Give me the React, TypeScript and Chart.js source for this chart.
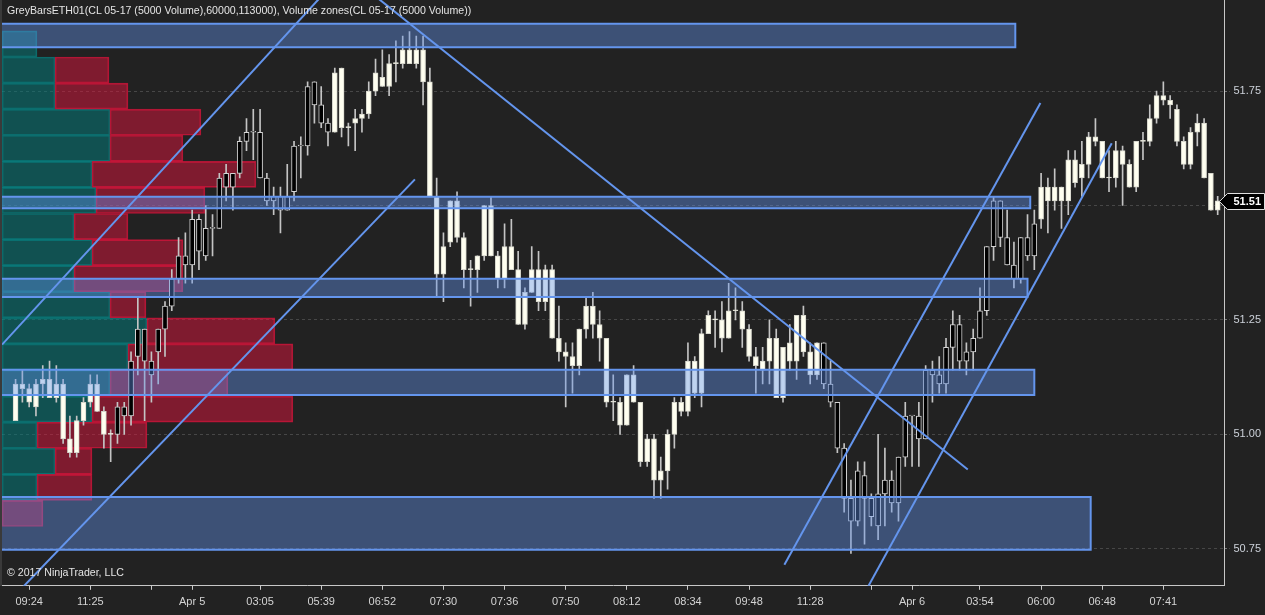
import React, { useEffect, useRef } from 'react';
import { Chart, registerables } from 'chart.js';

Chart.register(...registerables);

// ---- Candles (CL 05-17, 5000 volume bars) ----
const open = [
  51.11, 51.11, 51.10, 51.11, 51.12, 51.12, 51.11, 51.11, 50.99, 51.03, 51.07, 51.11, 51.11, 51.05, 51.00,
  51.00, 51.04, 51.04, 51.17, 51.16, 51.13, 51.18, 51.23, 51.28, 51.34, 51.37, 51.37, 51.40, 51.39, 51.45,
  51.45, 51.54, 51.54, 51.57, 51.64, 51.66, 51.56, 51.51, 51.51, 51.49, 51.49, 51.53, 51.63, 51.63, 51.72, 51.68, 51.66,
  51.79, 51.80, 51.67, 51.69, 51.70, 51.75, 51.79, 51.78, 51.81, 51.81, 51.84, 51.84, 51.84, 51.84,
  51.77, 51.52, 51.41, 51.51, 51.51, 51.43, 51.36, 51.39, 51.50, 51.50, 51.39, 51.41, 51.41, 51.36, 51.31,
  51.36, 51.36, 51.36, 51.36, 51.21, 51.18, 51.17, 51.23, 51.28, 51.28, 51.24, 51.21, 51.07, 51.07, 51.13,
  51.13, 51.07, 50.99, 50.99, 50.92, 51.00, 51.07, 51.07, 51.16, 51.16, 51.22, 51.26, 51.25, 51.25, 51.27,
  51.27, 51.27, 51.23, 51.17, 51.16, 51.21, 51.21, 51.19, 51.20, 51.26, 51.26, 51.18, 51.20,
  51.11, 51.07, 50.97, 50.86, 50.81, 50.81, 50.86, 50.82, 50.80, 50.87, 50.85, 50.85, 50.95, 51.04, 50.99,
  50.99, 51.13, 51.11, 51.11, 51.19, 51.16, 51.16, 51.18, 51.21, 51.27, 51.41, 51.43, 51.37, 51.34, 51.34, 51.39, 51.39,
  51.54, 51.54, 51.54, 51.54, 51.60, 51.60, 51.59, 51.65, 51.65, 51.64, 51.56, 51.62, 51.62, 51.59, 51.64,
  51.64, 51.69, 51.74, 51.74, 51.73, 51.71, 51.64, 51.66, 51.68, 51.68, 51.57, 51.49,
];
const high = [
  51.12, 51.14, 51.11, 51.12, 51.15, 51.16, 51.15, 51.12, 51.04, 51.04, 51.08, 51.13, 51.13, 51.06, 51.01,
  51.07, 51.07, 51.18, 51.30, 51.23, 51.18, 51.23, 51.29, 51.36, 51.43, 51.44, 51.49, 51.48, 51.50, 51.48,
  51.57, 51.59, 51.57, 51.65, 51.69, 51.71, 51.71, 51.57, 51.54, 51.54, 51.59, 51.64, 51.65, 51.77, 51.77, 51.76, 51.69,
  51.80, 51.80, 51.68, 51.71, 51.71, 51.77, 51.82, 51.84, 51.83, 51.86, 51.87, 51.88, 51.87, 51.87,
  51.80, 51.56, 51.44, 51.51, 51.53, 51.44, 51.38, 51.39, 51.50, 51.52, 51.40, 51.46, 51.47, 51.40, 51.32,
  51.41, 51.40, 51.37, 51.37, 51.28, 51.20, 51.20, 51.23, 51.30, 51.31, 51.27, 51.21, 51.13, 51.08, 51.13,
  51.15, 51.07, 51.00, 51.00, 50.95, 51.01, 51.08, 51.08, 51.20, 51.17, 51.23, 51.27, 51.27, 51.29, 51.33,
  51.32, 51.29, 51.24, 51.19, 51.19, 51.25, 51.23, 51.19, 51.24, 51.26, 51.28, 51.20, 51.20,
  51.20, 51.16, 51.07, 50.98, 50.90, 50.94, 50.94, 50.87, 51.00, 50.97, 50.92, 50.95, 51.07, 51.04, 51.07,
  51.15, 51.16, 51.17, 51.21, 51.27, 51.26, 51.20, 51.23, 51.32, 51.41, 51.52, 51.51, 51.49, 51.42, 51.43, 51.48, 51.49,
  51.57, 51.56, 51.58, 51.54, 51.62, 51.62, 51.64, 51.66, 51.69, 51.64, 51.62, 51.64, 51.63, 51.60, 51.64,
  51.66, 51.72, 51.75, 51.77, 51.74, 51.72, 51.65, 51.67, 51.70, 51.69, 51.57, 51.52,
];
const low = [
  51.03, 51.07, 51.06, 51.04, 51.08, 51.08, 51.07, 50.98, 50.95, 50.95, 51.02, 51.06, 51.05, 50.97, 50.94,
  50.98, 51.00, 51.02, 51.13, 51.03, 51.07, 51.11, 51.17, 51.27, 51.33, 51.33, 51.33, 51.36, 51.38, 51.39,
  51.45, 51.51, 51.49, 51.56, 51.62, 51.60, 51.56, 51.50, 51.48, 51.44, 51.49, 51.51, 51.56, 51.61, 51.68, 51.67, 51.63,
  51.66, 51.65, 51.63, 51.62, 51.66, 51.69, 51.74, 51.76, 51.74, 51.77, 51.80, 51.81, 51.80, 51.72,
  51.52, 51.30, 51.29, 51.41, 51.42, 51.32, 51.28, 51.31, 51.38, 51.39, 51.32, 51.32, 51.36, 51.24, 51.23,
  51.31, 51.27, 51.27, 51.21, 51.16, 51.06, 51.09, 51.13, 51.21, 51.21, 51.16, 51.06, 51.03, 51.00, 51.02,
  51.07, 50.93, 50.93, 50.86, 50.86, 50.88, 50.97, 51.04, 51.04, 51.08, 51.06, 51.22, 51.19, 51.18, 51.21,
  51.25, 51.19, 51.16, 51.09, 51.11, 51.11, 51.08, 51.07, 51.14, 51.12, 51.17, 51.11, 51.12,
  51.10, 51.06, 50.96, 50.83, 50.74, 50.80, 50.76, 50.80, 50.77, 50.80, 50.83, 50.81, 50.93, 50.93, 50.93,
  50.99, 51.07, 51.09, 51.09, 51.14, 51.14, 51.13, 51.14, 51.21, 51.26, 51.38, 51.41, 51.37, 51.32, 51.33, 51.38, 51.36,
  51.45, 51.44, 51.49, 51.45, 51.48, 51.54, 51.52, 51.56, 51.63, 51.56, 51.53, 51.54, 51.50, 51.54, 51.53,
  51.60, 51.63, 51.68, 51.72, 51.69, 51.63, 51.58, 51.58, 51.63, 51.56, 51.49, 51.48,
];
const close = [
  51.03, 51.10, 51.07, 51.06, 51.11, 51.08, 51.08, 50.99, 50.96, 50.96, 51.03, 51.07, 51.05, 51.00, 51.00,
  51.06, 51.06, 51.16, 51.23, 51.23, 51.16, 51.23, 51.28, 51.34, 51.39, 51.39, 51.47, 51.47, 51.45, 51.45,
  51.56, 51.57, 51.57, 51.64, 51.66, 51.66, 51.66, 51.56, 51.52, 51.52, 51.52, 51.63, 51.63, 51.76, 51.77, 51.72, 51.68,
  51.66, 51.67, 51.67, 51.68, 51.69, 51.70, 51.75, 51.76, 51.76, 51.81, 51.81, 51.81, 51.81, 51.77,
  51.52, 51.35, 51.35, 51.42, 51.43, 51.36, 51.36, 51.36, 51.39, 51.39, 51.34, 51.34, 51.36, 51.24, 51.24,
  51.31, 51.29, 51.29, 51.21, 51.18, 51.17, 51.15, 51.15, 51.23, 51.24, 51.21, 51.07, 51.07, 51.02, 51.02,
  51.07, 50.94, 50.94, 50.90, 50.90, 50.92, 51.00, 51.05, 51.05, 51.09, 51.09, 51.22, 51.25, 51.21, 51.21,
  51.27, 51.23, 51.17, 51.15, 51.14, 51.16, 51.08, 51.08, 51.16, 51.16, 51.18, 51.13, 51.13,
  51.20, 51.11, 51.07, 50.97, 50.86, 50.92, 50.91, 50.86, 50.87, 50.90, 50.90, 50.95, 51.04, 51.04, 51.04,
  51.14, 51.14, 51.13, 51.19, 51.24, 51.24, 51.18, 51.21, 51.27, 51.41, 51.51, 51.51, 51.43, 51.37, 51.43, 51.43, 51.46,
  51.47, 51.51, 51.51, 51.51, 51.51, 51.55, 51.56, 51.59, 51.64, 51.56, 51.56, 51.56, 51.59, 51.54, 51.54,
  51.64, 51.64, 51.69, 51.73, 51.72, 51.64, 51.59, 51.59, 51.66, 51.56, 51.49, 51.51,
];
// GreyBars colouring of each bar, as runs: [kind, bar count]  (w = light bar, b = dark bar)
const barColourRuns: [string, number][] = [['w', 15], ['b', 32], ['w', 72], ['b', 32], ['w', 27]];

// ---- Time axis ----
const tickIndex = [2, 11, 20, 26, 36, 45, 54, 63, 72, 81, 90, 99, 108, 117, 126, 132, 142, 151, 160, 169];
const tickText = ['09:24', '11:25', '', 'Apr 5', '03:05', '05:39', '06:52', '07:30', '07:36', '07:50',
  '08:12', '08:34', '09:48', '11:28', '', 'Apr 6', '03:54', '06:00', '06:48', '07:41'];

// ---- Volume profile (price rows, buy / sell volume) ----
const profilePrice = [51.853, 51.796, 51.739, 51.682, 51.625, 51.568, 51.511, 51.454, 51.397, 51.340,
  51.283, 51.226, 51.169, 51.112, 51.055, 50.998, 50.941, 50.884, 50.827];
const buyVolume = [175, 265, 265, 540, 540, 450, 470, 360, 450, 360, 540, 725, 630, 540, 450, 175, 265, 175, 0];
const sellVolume = [0, 270, 365, 455, 365, 820, 545, 270, 455, 545, 180, 640, 825, 590, 1005, 550, 185, 275, 205];

// ---- Volume zones ----
const zoneHigh = [51.897, 51.519, 51.340, 51.141, 50.863];
const zoneLow = [51.846, 51.494, 51.300, 51.086, 50.748];
const zoneStart = [-4, -4, -4, -4, -4];
const zoneEnd = [147.2, 149.4, 149.0, 150.0, 158.3];

// ---- Drawn trend lines (bar index, price) ----
const lineFromIndex = [-2, 1.0, 53.0, 113.2, 125.0];
const lineFromPrice = [51.196, 50.665, 51.957, 50.715, 50.653];
const lineToIndex = [46, 58.8, 140.2, 150.9, 161.4];
const lineToPrice = [51.973, 51.557, 50.923, 51.724, 51.636];

const PRICE_MIN = 50.669;
const PRICE_MAX = 51.949;
const FONT = '"Liberation Sans", Arial, sans-serif';
const BLUE = 'rgb(100,149,237)';

const lastPricePlugin = {
  id: 'lastPrice',
  afterDraw(chart: any) {
    const { ctx, chartArea } = chart;
    const y = chart.scales.y;
    const v = close[close.length - 1];
    const py = Math.round(y.getPixelForValue(v)) + 0.5;
    const r = chartArea.right;
    ctx.save();
    ctx.beginPath();
    ctx.moveTo(r - 5, py);
    ctx.lineTo(r + 3, py - 8);
    ctx.lineTo(chart.width - 0.5, py - 8);
    ctx.lineTo(chart.width - 0.5, py + 8);
    ctx.lineTo(r + 3, py + 8);
    ctx.closePath();
    ctx.fillStyle = '#000';
    ctx.fill();
    ctx.strokeStyle = '#e0e0e0';
    ctx.lineWidth = 1;
    ctx.stroke();
    ctx.fillStyle = '#ffffff';
    ctx.font = 'bold 11px ' + FONT;
    ctx.textBaseline = 'middle';
    ctx.textAlign = 'left';
    ctx.fillText(v.toFixed(2), r + 9, py + 0.5);
    ctx.restore();
  },
};

export default function App() {
  const ref = useRef<HTMLCanvasElement>(null);

  useEffect(() => {
    const canvas = ref.current;
    if (!canvas) return;

    const barKind: string[] = [];
    barColourRuns.forEach(([k, n]) => { for (let j = 0; j < n; j++) barKind.push(k); });

    const datasets: any[] = [];

    // trend lines
    lineFromIndex.forEach((x0, i) => {
      datasets.push({
        type: 'line', label: 'Trend ' + (i + 1), xAxisID: 'x', yAxisID: 'y',
        data: [{ x: x0, y: lineFromPrice[i] }, { x: lineToIndex[i], y: lineToPrice[i] }],
        borderColor: BLUE, borderWidth: 2, pointRadius: 0, fill: false, tension: 0, order: 0,
      });
    });

    // zones
    zoneHigh.forEach((hi, i) => {
      datasets.push({
        type: 'line', label: 'Zone ' + (i + 1), xAxisID: 'x', yAxisID: 'y',
        data: [
          { x: zoneStart[i], y: hi }, { x: zoneEnd[i], y: hi },
          { x: zoneEnd[i], y: zoneLow[i] }, { x: zoneStart[i], y: zoneLow[i] },
        ],
        borderColor: BLUE, borderWidth: 2, pointRadius: 0, tension: 0,
        fill: 'shape', backgroundColor: 'rgba(100,149,237,0.41)', order: 1,
      });
    });

    // candle bodies
    datasets.push({
      type: 'bar', label: 'Body', xAxisID: 'x', yAxisID: 'y',
      data: open.map((o, i) => ({ x: i, y: [Math.min(o, close[i]), Math.max(o, close[i])] })),
      backgroundColor: barKind.map((k) => (k === 'w' ? '#fffff0' : '#000000')),
      borderColor: barKind.map((k) => (k === 'w' ? '#d6d6cc' : '#d4d4d4')),
      borderWidth: 1, borderSkipped: false, barThickness: 5, minBarLength: 1,
      grouped: false, order: 2,
    });
    // wicks
    datasets.push({
      type: 'bar', label: 'Wick', xAxisID: 'x', yAxisID: 'y',
      data: high.map((h, i) => ({ x: i, y: [low[i], h] })),
      backgroundColor: '#c4c4c4', borderWidth: 0, barThickness: 1,
      grouped: false, order: 3,
    });

    // volume profile
    datasets.push({
      type: 'bar', label: 'Sell volume', indexAxis: 'y', xAxisID: 'xv', yAxisID: 'yp',
      data: profilePrice.map((p, i) => ({ y: p, x: [buyVolume[i], buyVolume[i] + sellVolume[i]] })),
      backgroundColor: 'rgba(220,20,60,0.5)', borderColor: 'rgba(220,20,60,0.75)',
      borderWidth: 1, borderSkipped: false, categoryPercentage: 1, barPercentage: 1,
      grouped: false, order: 4,
    });
    datasets.push({
      type: 'bar', label: 'Buy volume', indexAxis: 'y', xAxisID: 'xv', yAxisID: 'yp',
      data: profilePrice.map((p, i) => ({ y: p, x: [0, buyVolume[i]] })),
      backgroundColor: 'rgba(0,128,128,0.5)', borderColor: 'rgba(0,160,160,0.55)',
      borderWidth: 1, borderSkipped: false, categoryPercentage: 1, barPercentage: 1,
      grouped: false, order: 5,
    });

    const chart = new Chart(canvas, {
      type: 'bar',
      data: { datasets },
      plugins: [lastPricePlugin],
      options: {
        animation: false,
        responsive: false,
        devicePixelRatio: 1,
        events: [],
        layout: { padding: { left: 2, right: 0, top: 0, bottom: 0 } },
        plugins: { legend: { display: false }, tooltip: { enabled: false } },
        scales: {
          x: {
            type: 'linear', position: 'bottom', min: -2, max: 178, offset: false, bounds: 'data',
            grid: { display: true, drawOnChartArea: false, drawTicks: true, tickLength: 4, color: '#c8c8c8', offset: false },
            border: { display: true, color: '#c8c8c8', width: 1 },
            afterBuildTicks: (scale: any) => { scale.ticks = tickIndex.map((v) => ({ value: v })); },
            ticks: {
              autoSkip: false, maxRotation: 0, minRotation: 0, padding: 6,
              color: '#d4d4d4', font: { family: FONT, size: 11 },
              callback: (v: any) => { const k = tickIndex.indexOf(Number(v)); return k >= 0 ? tickText[k] : ''; },
            },
          },
          y: {
            type: 'linear', position: 'right', min: PRICE_MIN, max: PRICE_MAX, beginAtZero: false, bounds: 'ticks', offset: false,
            grid: { color: '#474747', tickLength: 5, tickColor: '#777', tickBorderDash: [2, 2] },
            border: { display: true, color: '#c8c8c8', width: 1, dash: [3, 3] },
            afterFit: (scale: any) => { scale.paddingTop = 0; scale.paddingBottom = 0; },
            ticks: {
              stepSize: 0.25, includeBounds: false, padding: 4,
              color: '#cdd2da', font: { family: FONT, size: 11 },
              callback: (v: any) => Number(v).toFixed(2),
            },
          },
          xv: {
            type: 'linear', axis: 'x', position: 'top', display: false, min: 0, max: 6115, offset: false,
            beginAtZero: true, bounds: 'data', grid: { display: false, offset: false },
          },
          yp: {
            type: 'linear', axis: 'y', position: 'left', display: false, min: PRICE_MIN, max: PRICE_MAX,
            offset: false, beginAtZero: false, bounds: 'data', grid: { display: false, offset: false },
          },
        },
      } as any,
    });
    return () => chart.destroy();
  }, []);

  return (
    <div style={{ position: 'fixed', left: 0, top: 0, width: 1265, height: 615, background: '#222222', overflow: 'hidden' }}>
      <canvas ref={ref} width={1265} height={615} style={{ display: 'block', width: 1265, height: 615 }} />
      <div style={{ position: 'absolute', left: 0, top: 0, width: 2, height: 586, background: '#3a3a3a', pointerEvents: 'none' }} />
      <div style={{ position: 'absolute', left: 7, top: 4, font: '10.6px ' + FONT, color: '#e4e4e4', whiteSpace: 'nowrap', pointerEvents: 'none' }}>
        GreyBarsETH01(CL 05-17 (5000 Volume),60000,113000), Volume zones(CL 05-17 (5000 Volume))
      </div>
      <div style={{ position: 'absolute', left: 7, top: 566, font: '10.6px ' + FONT, color: '#e4e4e4', whiteSpace: 'nowrap', pointerEvents: 'none' }}>
        © 2017 NinjaTrader, LLC
      </div>
    </div>
  );
}
